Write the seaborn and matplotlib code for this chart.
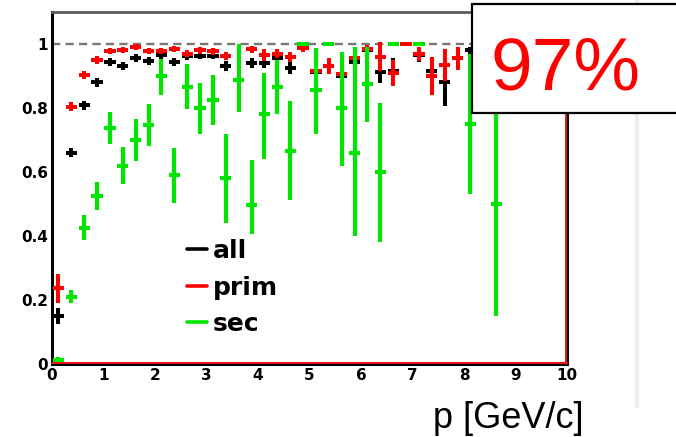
import matplotlib
matplotlib.use("Agg")
import numpy as np
import pandas as pd
import matplotlib.pyplot as plt
from matplotlib.lines import Line2D
from matplotlib.patches import Rectangle
from matplotlib.ticker import MultipleLocator, FuncFormatter
import seaborn as sns

# ---- efficiency vs momentum, bins of 0.25 GeV/c ----
all_p = [0.125, 0.375, 0.625, 0.875, 1.125, 1.375, 1.625, 1.875, 2.125, 2.375,
         2.625, 2.875, 3.125, 3.375, 3.875, 4.125, 4.375, 4.625, 5.125, 5.375,
         5.625, 5.875, 6.125, 6.375, 6.625, 7.125, 7.375, 7.625, 7.875, 8.125]
all_eff = [0.150, 0.660, 0.808, 0.880, 0.943, 0.932, 0.956, 0.947, 0.966, 0.943,
           0.962, 0.964, 0.964, 0.932, 0.940, 0.940, 0.955, 0.925, 0.913, 0.930,
           0.900, 0.945, 0.980, 0.912, 0.915, 0.965, 0.915, 0.880, 0.955, 0.980]
all_err = [0.025, 0.014, 0.014, 0.013, 0.012, 0.012, 0.012, 0.012, 0.012, 0.012,
           0.012, 0.012, 0.012, 0.015, 0.015, 0.015, 0.015, 0.020, 0.015, 0.020,
           0.015, 0.015, 0.012, 0.035, 0.040, 0.020, 0.045, 0.075, 0.030, 0.012]

prim_p = [0.125, 0.375, 0.625, 0.875, 1.125, 1.375, 1.625, 1.875, 2.125, 2.375,
          2.625, 2.875, 3.125, 3.375, 3.875, 4.125, 4.375, 4.625, 4.875, 5.125,
          5.375, 5.625, 5.875, 6.125, 6.375, 6.625, 6.875, 7.125, 7.375, 7.625,
          7.875, 8.875]
prim_eff = [0.237, 0.804, 0.903, 0.950, 0.978, 0.981, 0.990, 0.978, 0.978, 0.985,
            0.970, 0.980, 0.978, 0.963, 0.984, 0.966, 0.970, 0.960, 0.987, 0.916,
            0.930, 0.905, 0.955, 0.985, 0.960, 0.910, 1.000, 0.970, 0.900, 0.935,
            0.955, 0.880]
prim_err = [0.045, 0.014, 0.013, 0.012, 0.010, 0.010, 0.009, 0.010, 0.010, 0.010,
            0.011, 0.011, 0.011, 0.012, 0.011, 0.018, 0.014, 0.016, 0.012, 0.014,
            0.025, 0.016, 0.022, 0.012, 0.045, 0.040, 0.000, 0.022, 0.060, 0.050,
            0.035, 0.100]

sec_p = [0.125, 0.375, 0.625, 0.875, 1.125, 1.375, 1.625, 1.875, 2.125, 2.375,
         2.625, 2.875, 3.125, 3.375, 3.625, 3.875, 4.125, 4.375, 4.625, 4.875,
         5.125, 5.375, 5.625, 5.875, 6.125, 6.375, 6.625, 7.125, 8.125, 8.625]
sec_eff = [0.013, 0.210, 0.425, 0.525, 0.737, 0.620, 0.700, 0.747, 0.900, 0.590,
           0.866, 0.800, 0.825, 0.580, 0.887, 0.497, 0.780, 0.866, 0.666, 1.000,
           0.856, 1.000, 0.800, 0.660, 0.875, 0.600, 1.000, 1.000, 0.750, 0.500]
sec_err_lo = [0.010, 0.020, 0.038, 0.045, 0.050, 0.058, 0.065, 0.065, 0.058, 0.088,
              0.068, 0.080, 0.078, 0.140, 0.100, 0.090, 0.140, 0.085, 0.155, 0.000,
              0.136, 0.000, 0.180, 0.260, 0.118, 0.220, 0.000, 0.000, 0.220, 0.350]
sec_err_hi = [0.010, 0.020, 0.040, 0.045, 0.050, 0.058, 0.065, 0.065, 0.052, 0.085,
              0.070, 0.078, 0.077, 0.140, 0.113, 0.140, 0.130, 0.085, 0.155, 0.000,
              0.131, 0.000, 0.175, 0.330, 0.115, 0.215, 0.000, 0.000, 0.220, 0.350]

series_names = ["all", "prim", "sec"]
series_colors = {"all": "#000000", "prim": "#ff0000", "sec": "#00e600"}

frames = [
    pd.DataFrame({"p": all_p, "eff": all_eff, "lo": all_err, "hi": all_err, "sample": "all"}),
    pd.DataFrame({"p": prim_p, "eff": prim_eff, "lo": prim_err, "hi": prim_err, "sample": "prim"}),
    pd.DataFrame({"p": sec_p, "eff": sec_eff, "lo": sec_err_lo, "hi": sec_err_hi, "sample": "sec"}),
]
data = pd.concat(frames, ignore_index=True)

sns.set_theme(style="white")
plt.rcParams["font.family"] = ["DejaVu Sans"]
plt.rcParams["font.weight"] = "bold"
plt.rcParams["text.color"] = "black"

W, H = 676, 437
fig = plt.figure(figsize=(W / 100, H / 100), dpi=100)
fig.patch.set_facecolor("white")
ax = fig.add_axes([52 / W, 1 - 364 / H, (567 - 52) / W, (364 - 12) / H])
ax.set_facecolor("white")

# reference line at full efficiency
ax.axhline(1.0, color="#777777", lw=1.7, ls=(0, (3.5, 2.2)), zorder=1)

line_w = {"all": 2.9, "prim": 2.9, "sec": 3.0}
z = {"all": 2, "prim": 3, "sec": 4}
for name in series_names:
    d = data[data["sample"] == name]
    ax.errorbar(d["p"], d["eff"], yerr=[d["lo"], d["hi"]], xerr=0.11,
                fmt="none", ecolor=series_colors[name], elinewidth=line_w[name],
                capsize=0, zorder=z[name])

ax.set_xlim(0, 10)
ax.set_ylim(0, 1.1)
ax.xaxis.set_major_locator(MultipleLocator(1))
ax.xaxis.set_minor_locator(MultipleLocator(0.2))
ax.yaxis.set_major_locator(MultipleLocator(0.2))
ax.yaxis.set_minor_locator(MultipleLocator(0.05))
ax.yaxis.set_major_formatter(FuncFormatter(lambda v, _: f"{v:g}"))
ax.xaxis.set_major_formatter(FuncFormatter(lambda v, _: f"{v:g}"))
ax.tick_params(axis="both", which="both", direction="in", colors="black",
               labelcolor="black", labelsize=11, width=1.5)
ax.tick_params(axis="y", which="major", length=12, pad=3)
ax.tick_params(axis="y", which="minor", length=7)
ax.tick_params(axis="x", which="major", length=7, pad=3)
ax.tick_params(axis="x", which="minor", length=4)
ax.set_xlabel("")
ax.set_ylabel("")

for side in ["left", "bottom", "right"]:
    ax.spines[side].set_color("black")
    ax.spines[side].set_linewidth(2.2)
ax.spines["top"].set_color("#5a5a5a")
ax.spines["top"].set_linewidth(2.0)
# red histogram frame lines along bottom and right edges
ax.plot([0, 10], [0.004, 0.004], color="#ee1111", lw=1.4, zorder=5, clip_on=False)
ax.plot([9.975, 9.975], [0, 1.1], color="#ee1111", lw=1.4, zorder=5, clip_on=False)

handles = [Line2D([], [], color=series_colors[n], lw=2.6) for n in series_names]
leg = ax.legend(handles, series_names, loc="upper left",
                bbox_to_anchor=((187 - 52) / 515, (364 - 239) / 352),
                frameon=False, handlelength=0.8, handletextpad=0.25,
                labelspacing=0.5, borderpad=0, borderaxespad=0,
                prop={"weight": "bold", "size": 18})
for t in leg.get_texts():
    t.set_color("black")

# light edge strip on the right
fig.add_artist(Rectangle((635 / W, 1 - 408 / H), 4 / W, 408 / H,
                         transform=fig.transFigure, facecolor="#eeeeee",
                         edgecolor="none", zorder=0))

# summary box
fig.add_artist(Rectangle((472 / W, 1 - 113 / H), (700 - 472) / W, (113 - 4) / H,
                         transform=fig.transFigure, facecolor="white",
                         edgecolor="black", lw=1.6, zorder=10))
fig.text(566 / W, 1 - 89 / H, "97%", color="red", fontsize=54,
         fontweight="normal", family="Liberation Sans",
         ha="center", va="baseline", zorder=11)

fig.text(508 / W, 1 - 428 / H, "p [GeV/c]", color="black", fontsize=26,
         fontweight="normal", family="Liberation Sans",
         ha="center", va="baseline")

fig.savefig("out.png", dpi=100, facecolor="white")
